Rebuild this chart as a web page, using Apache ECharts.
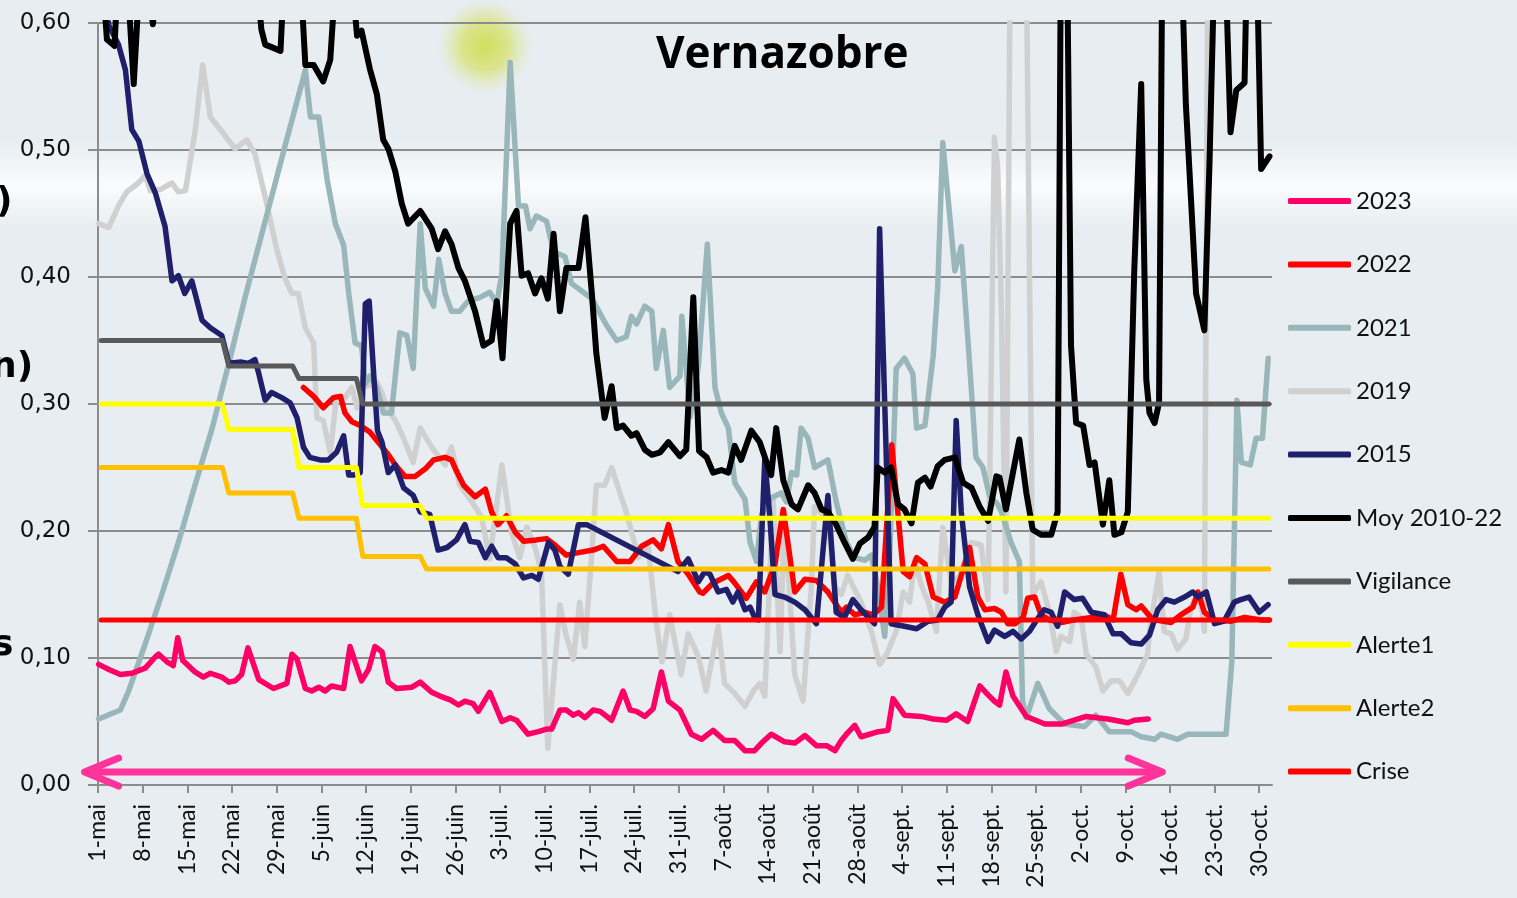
<!DOCTYPE html>
<html>
<head>
<meta charset="utf-8">
<title>Vernazobre</title>
<script src="https://cdn.jsdelivr.net/npm/echarts@6.0.0/dist/echarts.min.js"></script>
<style>
  html, body { margin: 0; padding: 0; background: #e7edf1; }
  #chart { width: 1517px; height: 898px; }
</style>
</head>
<body>
<div id="chart"></div>
<script>
// x = jours depuis le 1er mai (le point du jour j est au milieu de sa case : j + 0.5)
const tickLabels = ['1-mai', '8-mai', '15-mai', '22-mai', '29-mai', '5-juin', '12-juin', '19-juin', '26-juin',
  '3-juil.', '10-juil.', '17-juil.', '24-juil.', '31-juil.', '7-août', '14-août', '21-août', '28-août',
  '4-sept.', '11-sept.', '18-sept.', '25-sept.', '2-oct.', '9-oct.', '16-oct.', '23-oct.', '30-oct.']

const s2023 = [[0.1,0.095],[1.7,0.091],[3.5,0.087],[5.3,0.088],[7.4,0.092],[9.0,0.101],[9.5,0.103],[10.8,0.097],[11.8,0.094],[12.5,0.116],[13.3,0.098],[15.2,0.089],[16.5,0.085],[17.6,0.088],[19.4,0.085],[20.5,0.081],[21.5,0.082],[22.5,0.087],[23.5,0.108],[25.2,0.083],[27.5,0.076],[29.6,0.080],[30.4,0.103],[31.2,0.099],[32.5,0.076],[33.5,0.074],[34.6,0.077],[35.6,0.074],[36.6,0.078],[38.5,0.076],[39.5,0.109],[41.3,0.082],[42.4,0.091],[43.4,0.109],[44.5,0.105],[45.5,0.081],[46.8,0.076],[49.2,0.077],[50.5,0.081],[52.3,0.073],[53.6,0.070],[55.2,0.067],[56.5,0.063],[57.5,0.066],[58.8,0.064],[59.6,0.058],[61.4,0.073],[63.3,0.050],[64.6,0.053],[65.6,0.051],[67.4,0.040],[69.0,0.042],[70.3,0.044],[71.1,0.044],[72.4,0.059],[73.4,0.059],[74.5,0.055],[75.3,0.057],[76.3,0.053],[77.6,0.059],[78.7,0.058],[80.5,0.051],[82.3,0.074],[83.4,0.059],[84.4,0.058],[85.7,0.054],[87.0,0.060],[88.3,0.089],[89.4,0.066],[91.2,0.059],[93.0,0.040],[94.6,0.036],[96.4,0.043],[98.2,0.035],[99.8,0.035],[101.4,0.027],[102.9,0.027],[104.0,0.033],[105.5,0.040],[107.6,0.034],[109.2,0.033],[110.8,0.039],[112.6,0.031],[114.2,0.031],[115.5,0.027],[116.5,0.035],[117.3,0.040],[118.6,0.047],[119.6,0.038],[122.3,0.042],[123.8,0.043],[124.6,0.068],[126.4,0.055],[129.0,0.054],[130.9,0.052],[133.0,0.051],[134.5,0.056],[136.3,0.050],[138.2,0.078],[139.5,0.071],[140.5,0.066],[141.3,0.063],[142.3,0.089],[143.4,0.070],[145.5,0.054],[148.4,0.048],[151.0,0.048],[153.0,0.051],[154.9,0.054],[158.3,0.052],[161.4,0.049],[162.4,0.051],[164.6,0.052]]

const s2022 = [[32.2,0.313],[33.8,0.306],[35.3,0.297],[36.9,0.305],[38.0,0.306],[38.7,0.293],[39.8,0.286],[41.1,0.283],[42.6,0.278],[43.9,0.270],[45.5,0.260],[46.6,0.252],[48.1,0.243],[49.7,0.243],[51.3,0.249],[52.6,0.256],[54.4,0.258],[55.4,0.256],[56.2,0.247],[57.3,0.236],[59.1,0.227],[60.7,0.233],[61.7,0.215],[62.7,0.205],[64.0,0.212],[65.4,0.199],[66.7,0.192],[68.7,0.193],[70.3,0.194],[71.6,0.189],[73.4,0.181],[75.3,0.183],[77.6,0.185],[79.2,0.188],[81.3,0.176],[83.4,0.176],[85.2,0.188],[87.0,0.193],[88.3,0.186],[89.4,0.205],[90.9,0.176],[92.5,0.166],[94.3,0.152],[94.8,0.151],[96.4,0.159],[98.8,0.165],[99.8,0.159],[101.6,0.147],[103.2,0.160],[104.5,0.152],[106.1,0.174],[107.4,0.217],[109.2,0.152],[110.8,0.162],[112.6,0.161],[114.4,0.152],[116.5,0.136],[117.3,0.140],[118.6,0.134],[120.2,0.136],[121.5,0.134],[122.8,0.140],[124.4,0.268],[126.2,0.168],[127.2,0.164],[128.3,0.179],[129.6,0.174],[130.9,0.148],[132.7,0.144],[134.3,0.148],[136.6,0.187],[137.9,0.148],[139.0,0.138],[140.5,0.139],[141.6,0.136],[142.6,0.127],[143.7,0.127],[145.0,0.132],[145.7,0.147],[146.8,0.148],[147.8,0.134],[149.1,0.130],[151.0,0.128],[153.0,0.130],[155.7,0.132],[157.7,0.134],[159.1,0.130],[160.3,0.166],[161.4,0.142],[162.7,0.138],[163.5,0.141],[165.0,0.132],[165.6,0.130],[168.2,0.128],[169.7,0.134],[171.6,0.140],[172.4,0.152],[173.4,0.136],[175.0,0.130],[177.6,0.129],[179.7,0.132],[182.3,0.130],[183.6,0.130]]

const s2021 = [[0.1,0.052],[3.5,0.059],[4.8,0.074],[7.4,0.111],[10.0,0.150],[12.6,0.191],[15.2,0.236],[17.9,0.281],[20.5,0.332],[23.1,0.385],[26.2,0.444],[29.3,0.503],[32.5,0.563],[33.3,0.526],[34.6,0.526],[35.9,0.477],[37.2,0.442],[38.5,0.425],[39.3,0.387],[40.3,0.348],[41.3,0.346],[41.9,0.316],[42.6,0.322],[43.7,0.313],[44.7,0.293],[46.0,0.293],[47.3,0.356],[48.4,0.354],[49.4,0.328],[50.5,0.442],[51.3,0.391],[52.6,0.377],[53.4,0.414],[54.4,0.387],[55.4,0.373],[56.7,0.373],[58.0,0.381],[59.9,0.384],[61.4,0.388],[62.5,0.379],[63.3,0.403],[64.6,0.569],[65.9,0.456],[67.0,0.456],[67.7,0.438],[68.7,0.448],[70.3,0.444],[71.4,0.420],[73.2,0.416],[74.2,0.395],[75.8,0.389],[77.4,0.383],[79.7,0.362],[81.3,0.350],[82.8,0.353],[83.6,0.369],[84.4,0.363],[85.7,0.377],[86.8,0.373],[87.5,0.328],[88.6,0.358],[89.6,0.313],[91.2,0.322],[91.5,0.369],[92.8,0.290],[94.1,0.330],[95.5,0.426],[96.7,0.313],[97.7,0.293],[98.8,0.281],[99.8,0.238],[101.4,0.225],[102.2,0.191],[103.2,0.176],[104.0,0.213],[105.5,0.226],[107.1,0.230],[107.9,0.223],[108.7,0.246],[109.5,0.244],[110.2,0.281],[111.3,0.273],[112.3,0.250],[114.4,0.256],[115.7,0.223],[117.3,0.191],[118.6,0.179],[120.2,0.177],[121.2,0.181],[122.2,0.156],[123.3,0.117],[124.1,0.183],[125.1,0.328],[126.4,0.336],[127.7,0.324],[128.3,0.281],[129.6,0.283],[130.9,0.338],[131.6,0.391],[132.4,0.506],[134.3,0.405],[135.3,0.424],[136.6,0.332],[137.6,0.258],[138.7,0.250],[139.7,0.228],[141.0,0.221],[141.6,0.215],[143.1,0.191],[144.4,0.176],[144.9,0.066],[145.5,0.053],[147.3,0.080],[149.1,0.060],[151.5,0.048],[154.6,0.046],[156.4,0.055],[158.5,0.042],[161.9,0.042],[163.5,0.038],[165.6,0.036],[166.6,0.040],[169.2,0.036],[170.8,0.040],[174.4,0.040],[176.8,0.040],[177.7,0.097],[178.5,0.303],[179.2,0.254],[180.6,0.252],[181.5,0.273],[182.5,0.273],[183.4,0.336]]

const s2019 = [[0.1,0.442],[1.7,0.439],[3.2,0.456],[4.5,0.467],[6.1,0.473],[7.4,0.480],[8.2,0.468],[9.8,0.469],[11.6,0.474],[12.6,0.467],[13.7,0.468],[15.2,0.514],[16.4,0.567],[17.6,0.526],[19.2,0.516],[21.5,0.501],[23.3,0.508],[24.6,0.497],[26.2,0.463],[28.0,0.422],[29.3,0.399],[30.4,0.387],[31.4,0.387],[32.5,0.360],[33.8,0.348],[34.3,0.289],[35.3,0.287],[36.4,0.262],[37.4,0.306],[38.7,0.305],[39.8,0.313],[40.6,0.297],[41.6,0.313],[43.7,0.317],[44.5,0.309],[45.3,0.297],[46.6,0.287],[47.9,0.273],[49.4,0.254],[50.5,0.281],[52.3,0.266],[54.4,0.252],[55.4,0.266],[56.7,0.236],[58.6,0.223],[60.1,0.211],[61.4,0.178],[63.3,0.252],[64.8,0.199],[66.1,0.179],[67.2,0.203],[68.5,0.187],[69.5,0.168],[70.5,0.029],[71.6,0.095],[72.4,0.142],[73.4,0.117],[74.5,0.099],[75.5,0.144],[76.3,0.109],[77.4,0.183],[78.1,0.236],[79.4,0.236],[80.5,0.250],[81.8,0.230],[82.8,0.215],[84.7,0.179],[86.2,0.189],[87.5,0.128],[88.4,0.097],[89.6,0.134],[91.4,0.087],[92.5,0.119],[94.1,0.101],[95.3,0.074],[97.2,0.125],[98.2,0.080],[99.8,0.072],[101.4,0.062],[102.7,0.074],[103.7,0.080],[104.5,0.070],[105.8,0.226],[106.9,0.105],[107.6,0.215],[109.2,0.087],[110.5,0.066],[111.8,0.156],[112.3,0.219],[114.4,0.209],[115.5,0.156],[116.5,0.150],[117.5,0.165],[119.6,0.144],[121.2,0.121],[122.5,0.095],[123.6,0.103],[125.1,0.121],[126.2,0.152],[127.2,0.144],[128.0,0.177],[129.0,0.158],[130.1,0.144],[131.4,0.121],[132.4,0.203],[133.7,0.160],[135.0,0.164],[136.9,0.191],[138.4,0.189],[139.5,0.146],[140.5,0.510],[141.0,0.487],[141.6,0.371],[142.3,0.152],[143.1,0.75],[144.4,0.80],[145.3,0.75],[146.5,0.150],[147.8,0.160],[149.1,0.136],[150.2,0.105],[150.9,0.117],[152.3,0.113],[153.0,0.136],[154.1,0.132],[154.9,0.103],[156.4,0.093],[157.5,0.074],[158.8,0.082],[160.1,0.082],[161.4,0.072],[163.0,0.087],[164.5,0.103],[164.8,0.121],[166.3,0.168],[167.1,0.121],[168.2,0.119],[169.2,0.107],[170.5,0.115],[171.3,0.140],[172.4,0.150],[173.1,0.136],[173.4,0.121],[174.2,0.90]]

const s2015 = [[0.5,0.64],[1.7,0.598],[3.2,0.583],[4.3,0.563],[5.3,0.516],[6.4,0.507],[7.7,0.481],[9.0,0.466],[10.5,0.440],[11.6,0.397],[12.6,0.401],[13.6,0.387],[14.7,0.397],[16.3,0.366],[17.6,0.360],[19.4,0.354],[20.5,0.332],[22.5,0.333],[23.6,0.332],[24.6,0.335],[25.2,0.324],[26.2,0.303],[27.2,0.309],[28.8,0.305],[30.1,0.301],[31.2,0.289],[32.2,0.266],[33.2,0.258],[34.8,0.256],[36.1,0.256],[37.4,0.262],[38.5,0.275],[39.3,0.244],[40.0,0.244],[41.1,0.246],[41.9,0.379],[42.5,0.381],[43.2,0.324],[43.8,0.279],[44.5,0.270],[45.5,0.246],[46.6,0.252],[47.9,0.234],[49.4,0.228],[50.5,0.215],[52.0,0.213],[53.3,0.185],[54.7,0.187],[56.2,0.193],[57.5,0.205],[58.3,0.192],[59.6,0.191],[60.7,0.179],[61.7,0.188],[62.7,0.179],[64.0,0.179],[65.4,0.174],[66.7,0.163],[68.0,0.165],[69.0,0.162],[70.6,0.191],[71.6,0.185],[72.4,0.172],[73.7,0.166],[75.3,0.205],[76.6,0.205],[90.9,0.168],[92.5,0.178],[94.1,0.160],[95.1,0.168],[95.9,0.166],[97.2,0.152],[98.5,0.154],[99.5,0.144],[100.3,0.152],[101.4,0.138],[102.2,0.140],[102.9,0.132],[103.5,0.130],[104.5,0.256],[105.3,0.211],[106.1,0.150],[107.6,0.148],[109.2,0.144],[110.8,0.138],[112.6,0.127],[114.4,0.228],[115.7,0.136],[117.0,0.132],[118.3,0.146],[119.6,0.138],[121.7,0.127],[122.5,0.438],[123.3,0.301],[124.3,0.127],[126.4,0.125],[128.3,0.123],[130.1,0.129],[131.6,0.130],[132.7,0.140],[133.7,0.144],[134.5,0.287],[135.3,0.215],[136.6,0.156],[137.9,0.134],[139.5,0.113],[140.5,0.122],[142.1,0.117],[143.4,0.121],[144.7,0.115],[146.0,0.121],[147.0,0.129],[148.3,0.138],[149.4,0.136],[150.4,0.125],[151.5,0.152],[153.0,0.146],[154.3,0.147],[155.7,0.136],[157.7,0.134],[159.1,0.119],[160.4,0.119],[161.9,0.112],[163.5,0.111],[164.8,0.118],[166.1,0.138],[167.4,0.146],[168.7,0.144],[170.3,0.148],[171.6,0.152],[172.4,0.148],[173.7,0.152],[175.0,0.127],[176.5,0.129],[178.1,0.144],[179.1,0.146],[180.4,0.148],[182.0,0.136],[183.4,0.142]]

const moyenne = [[0.5,0.65],[1.4,0.587],[2.6,0.582],[3.3,0.66],[4.3,0.66],[5.6,0.552],[6.8,0.66],[8.0,0.63],[8.6,0.599],[9.2,0.63],[17.0,0.75],[25.0,0.63],[25.6,0.595],[26.2,0.583],[27.2,0.581],[28.6,0.578],[29.2,0.64],[31.7,0.64],[32.5,0.567],[33.8,0.567],[35.3,0.554],[36.4,0.571],[37.3,0.64],[39.9,0.63],[40.6,0.590],[41.3,0.594],[42.6,0.564],[43.7,0.544],[44.7,0.508],[45.5,0.501],[46.6,0.483],[47.6,0.458],[48.6,0.442],[50.5,0.452],[52.3,0.438],[53.3,0.422],[54.4,0.436],[55.4,0.426],[56.5,0.407],[57.5,0.397],[59.1,0.373],[60.4,0.346],[61.7,0.350],[62.5,0.381],[63.4,0.336],[64.6,0.442],[65.6,0.452],[66.4,0.401],[67.4,0.403],[68.5,0.387],[69.5,0.399],[70.5,0.383],[71.4,0.434],[72.4,0.373],[73.4,0.407],[75.3,0.407],[76.4,0.447],[77.4,0.387],[78.1,0.340],[79.4,0.289],[80.5,0.314],[81.3,0.281],[82.3,0.283],[83.6,0.275],[84.4,0.277],[85.7,0.264],[86.8,0.260],[88.1,0.262],[89.4,0.270],[91.2,0.259],[92.2,0.264],[93.3,0.384],[94.2,0.263],[95.4,0.258],[96.4,0.246],[97.7,0.248],[98.8,0.246],[99.8,0.267],[100.8,0.256],[102.4,0.279],[103.7,0.270],[104.8,0.254],[105.5,0.244],[106.3,0.281],[107.4,0.240],[108.7,0.221],[109.7,0.217],[111.3,0.236],[112.3,0.230],[113.4,0.217],[114.4,0.215],[115.7,0.205],[117.0,0.191],[118.3,0.178],[119.4,0.190],[120.7,0.195],[121.7,0.203],[122.2,0.250],[123.3,0.246],[124.3,0.250],[125.4,0.221],[126.4,0.217],[127.5,0.206],[128.5,0.238],[129.6,0.242],[130.5,0.235],[131.6,0.251],[132.7,0.256],[134.3,0.258],[135.6,0.238],[136.9,0.234],[138.2,0.219],[139.5,0.208],[140.8,0.243],[141.3,0.242],[142.3,0.217],[143.4,0.246],[144.4,0.272],[145.5,0.230],[146.5,0.201],[147.8,0.197],[149.4,0.197],[150.4,0.215],[150.9,0.65],[151.9,0.65],[152.5,0.346],[153.3,0.285],[154.4,0.283],[155.4,0.252],[156.2,0.254],[157.5,0.205],[158.5,0.240],[159.3,0.197],[160.4,0.199],[161.4,0.215],[162.4,0.403],[163.5,0.552],[164.3,0.319],[164.8,0.293],[165.6,0.285],[166.3,0.301],[166.8,0.65],[169.8,0.65],[170.5,0.536],[172.1,0.387],[173.4,0.358],[174.2,0.489],[174.9,0.63],[176.8,0.63],[177.5,0.514],[178.4,0.547],[179.7,0.553],[180.0,0.63],[181.7,0.63],[182.3,0.485],[183.6,0.495]]

const vigilance = [[0.5,0.35],[19.5,0.35],[20.5,0.33],[30.5,0.33],[31.5,0.32],[40.5,0.32],[41.5,0.30],[183.5,0.30]]
const alerte1 = [[0.5,0.30],[19.5,0.30],[20.5,0.28],[30.5,0.28],[31.5,0.25],[40.5,0.25],[41.5,0.22],[50.5,0.22],[51.5,0.21],[183.5,0.21]]
const alerte2 = [[0.5,0.25],[19.5,0.25],[20.5,0.23],[30.5,0.23],[31.5,0.21],[40.5,0.21],[41.5,0.18],[50.5,0.18],[51.5,0.17],[183.5,0.17]]
const crise = [[0.5,0.13],[183.5,0.13]]

// flèche rose : de / à (jour, débit)
const arrowFrom = [-2.1, 0.0102]
const arrowTo = [166.8, 0.0102]

const legendNames = ['2023', '2022', '2021', '2019', '2015', 'Moy 2010-22', 'Vigilance', 'Alerte1', 'Alerte2', 'Crise']

function line(name, data, color, width) {
  return {
    name: name,
    type: 'line',
    data: data,
    symbol: 'none',
    showSymbol: false,
    silent: true,
    animation: false,
    itemStyle: { color: color },
    lineStyle: { color: color, width: width, cap: 'round', join: 'round' }
  }
}

const chart = echarts.init(document.getElementById('chart'))

chart.setOption({
  backgroundColor: '#e7edf1',
  title: {
    text: 'Vernazobre',
    left: 656,
    top: 33,
    padding: 0,
    textStyle: { fontFamily: 'Open Sans', fontWeight: 'bold', fontSize: 44, color: '#000' }
  },
  legend: {
    orient: 'vertical',
    left: 1288,
    top: 188,
    padding: 0,
    data: legendNames,
    icon: 'roundRect',
    itemWidth: 63,
    itemHeight: 6,
    itemGap: 37.4,
    selectedMode: false,
    textStyle: { fontFamily: 'Lato', fontSize: 24, lineHeight: 26, color: '#111' }
  },
  grid: { left: 98, right: 245, top: 23, bottom: 113 },
  xAxis: {
    type: 'value',
    min: 0,
    max: 184,
    interval: 7,
    axisLine: { lineStyle: { color: '#8c8c8c', width: 2 } },
    axisTick: { show: true, length: 8, lineStyle: { color: '#8c8c8c', width: 2 } },
    splitLine: { show: false },
    axisLabel: {
      rotate: 90,
      margin: 19,
      fontFamily: 'Lato',
      fontSize: 23,
      color: '#111',
      showMaxLabel: false,
      formatter: function(v) {
        return v % 7 === 0 && tickLabels[v / 7] ? tickLabels[v / 7] : ''
      }
    }
  },
  yAxis: {
    type: 'value',
    min: 0,
    max: 0.6,
    interval: 0.1,
    axisLine: { show: true, lineStyle: { color: '#8c8c8c', width: 2 } },
    axisTick: { show: true, length: 10, lineStyle: { color: '#8c8c8c', width: 2 } },
    splitLine: { lineStyle: { color: '#8c8c8c', width: 2 } },
    axisLabel: {
      margin: 27,
      fontFamily: 'DejaVu Sans',
      fontSize: 23,
      color: '#111',
      formatter: function(v) {
        return v.toFixed(2).replace('.', ',')
      }
    }
  },
  series: [
    line('2019', s2019, '#d0d0d0', 5.5),
    line('2021', s2021, '#99b7ba', 5.5),
    line('2023', s2023, '#ff0066', 5.5),
    line('2022', s2022, '#ff0000', 5.5),
    line('2015', s2015, '#1f1f6b', 5.5),
    line('Moy 2010-22', moyenne, '#000000', 6),
    line('Crise', crise, '#ff0000', 5),
    line('Alerte2', alerte2, '#ffc000', 5),
    line('Alerte1', alerte1, '#ffff00', 5),
    line('Vigilance', vigilance, '#595959', 5)
  ]
})

// fond (reflets de la photo) + flèche rose, placée avec les axes du graphique
const a = chart.convertToPixel({ gridIndex: 0 }, arrowFrom)
const b = chart.convertToPixel({ gridIndex: 0 }, arrowTo)
const pink = '#ff3399'

chart.setOption({
  graphic: [
    {
      type: 'rect', silent: true, z: -10,
      shape: { x: 0, y: 140, width: 1517, height: 90 },
      style: {
        fill: new echarts.graphic.LinearGradient(0, 0, 0, 1, [
          { offset: 0, color: 'rgba(255,255,255,0)' },
          { offset: 0.5, color: 'rgba(255,255,255,0.8)' },
          { offset: 1, color: 'rgba(255,255,255,0)' }
        ])
      }
    },
    {
      type: 'circle', silent: true, z: -10,
      shape: { cx: 485, cy: 46, r: 48 },
      style: {
        fill: new echarts.graphic.RadialGradient(0.5, 0.5, 0.5, [
          { offset: 0, color: 'rgba(210,222,90,1)' },
          { offset: 0.5, color: 'rgba(214,225,110,0.75)' },
          { offset: 1, color: 'rgba(225,232,170,0)' }
        ])
      }
    },
    {
      type: 'text', silent: true, left: -4, top: 185,
      style: { text: ')', font: 'bold 36px "DejaVu Sans"', fill: '#000' }
    },
    {
      type: 'text', silent: true, left: -9, top: 350,
      style: { text: 'n)', font: 'bold 36px "DejaVu Sans"', fill: '#000' }
    },
    {
      type: 'text', silent: true, left: -8, top: 628,
      style: { text: 's', font: 'bold 36px "DejaVu Sans"', fill: '#000' }
    },
    {
      type: 'line', silent: true, z: 20,
      shape: { x1: a[0] + 3, y1: a[1], x2: b[0] - 3, y2: b[1] },
      style: { stroke: pink, lineWidth: 7, lineCap: 'round' }
    },
    {
      type: 'polyline', silent: true, z: 20,
      shape: { points: [[a[0] + 34, a[1] - 14], [a[0], a[1]], [a[0] + 34, a[1] + 14]] },
      style: { stroke: pink, lineWidth: 7, lineCap: 'round', lineJoin: 'round', fill: null }
    },
    {
      type: 'polyline', silent: true, z: 20,
      shape: { points: [[b[0] - 34, b[1] - 14], [b[0], b[1]], [b[0] - 34, b[1] + 14]] },
      style: { stroke: pink, lineWidth: 7, lineCap: 'round', lineJoin: 'round', fill: null }
    }
  ]
})
</script>
</body>
</html>
